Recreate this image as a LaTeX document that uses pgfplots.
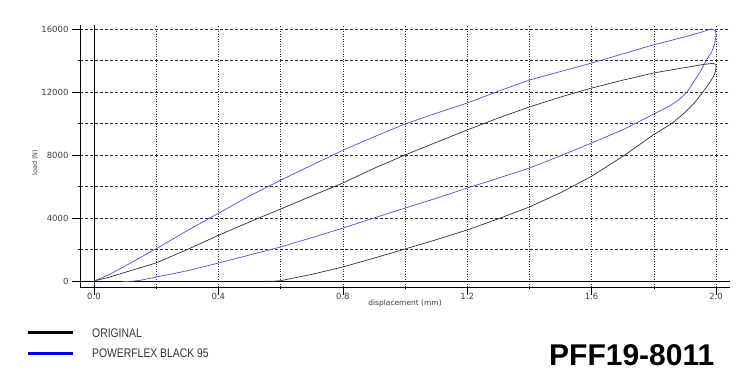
\documentclass[border=0pt]{standalone}
\usepackage{pgfplots}
\pgfplotsset{compat=1.18}
\usepackage{fontspec}
\setmainfont{DejaVu Sans}
\newfontfamily\legfont[FakeStretch=0.83]{Liberation Sans}
\newfontfamily\idfont{Liberation Sans}
\definecolor{bluec}{RGB}{80,80,225}
\definecolor{blackc}{RGB}{50,50,50}
\definecolor{gridc}{RGB}{40,40,40}
\begin{document}
\begin{tikzpicture}[x=1pt,y=1pt]
\path[use as bounding box] (0,0) rectangle (750,384);
\begin{axis}[
  at={(80pt,97pt)}, anchor=south west,
  scale only axis, width=650pt, height=262pt,
  xmin=-0.045, xmax=2.045, ymin=-381, ymax=16254,
  axis x line*=bottom, axis y line*=left,
  axis line style={-, black, line width=0.8pt},
  xtick={0,0.4,...,2.01}, minor xtick={0.2,0.6,1.0,1.4,1.8},
  ytick={0,4000,8000,12000,16000}, minor ytick={2000,6000,10000,14000},
  grid=both,
  major x grid style={gridc, line width=0.6pt, dash pattern=on 1pt off 1.5pt},
  minor x grid style={gridc, line width=0.6pt, dash pattern=on 1pt off 1.5pt},
  major y grid style={gridc, line width=0.6pt, dash pattern=on 3pt off 2pt},
  minor y grid style={gridc, line width=0.6pt, dash pattern=on 3pt off 2pt},
  tick align=outside, major tick length=8pt, minor tick length=2pt,
  tick style={black, line width=0.6pt},
  scaled y ticks=false,
  /pgf/number format/assume math mode=true,
  xticklabel style={/pgf/number format/fixed, /pgf/number format/fixed zerofill, /pgf/number format/precision=1, yshift=5pt},
  yticklabel style={/pgf/number format/fixed, /pgf/number format/1000 sep={}},
  ticklabel style={font=\fontsize{8.5}{10}\selectfont, text=black!75},
  xlabel={displacement (mm)},
  xlabel style={font=\fontsize{7.5}{9}\selectfont, text=black!75, at={(axis description cs:0.5,-0.062)}, anchor=center},
  ylabel={load (N)},
  ylabel style={font=\fontsize{6.5}{8}\selectfont, text=black!75, at={(axis description cs:-0.069,0.475)}, anchor=center},
  clip=false,
]
\draw[black, line width=0.7pt] (axis cs:0,-381) -- (axis cs:0,16254);
\draw[black, line width=0.7pt] (axis cs:-0.045,0) -- (axis cs:2.045,0);
% ORIGINAL
\addplot[blackc, line width=0.7pt] coordinates {
(0,0) (0.05,250) (0.1,550) (0.15,850) (0.2,1150) (0.3,2000) (0.4,2900) (0.5,3750)
(0.6,4570) (0.7,5400) (0.8,6220) (0.9,7150) (1.0,8000) (1.1,8800) (1.2,9590)
(1.3,10350) (1.4,11050) (1.5,11680) (1.6,12250) (1.7,12750) (1.8,13210)
(1.9,13550) (1.96,13750) (1.99,13820) (2.0,13750) (2.0,13500) (1.995,13100)
(1.98,12600) (1.958,12000) (1.93,11300) (1.9,10700) (1.858,10000) (1.8,9300)
(1.707,8000) (1.6,6650) (1.5,5600) (1.4,4700) (1.3,3950) (1.2,3240) (1.1,2620)
(1.0,2030) (0.9,1450) (0.8,890) (0.7,420) (0.62,100) (0.6,20) (0.58,-10) (0.55,-20)
};
% POWERFLEX BLACK 95
\addplot[bluec, line width=0.7pt] coordinates {
(0,0) (0.05,420) (0.1,950) (0.15,1500) (0.2,2050) (0.3,3200) (0.4,4300) (0.5,5400)
(0.6,6400) (0.7,7350) (0.8,8300) (0.9,9150) (1.0,9970) (1.1,10650) (1.2,11300)
(1.3,12050) (1.4,12760) (1.5,13300) (1.6,13840) (1.7,14420) (1.8,15000)
(1.9,15500) (1.95,15780) (1.985,16000) (1.998,15900) (2.0,15600) (1.995,15000)
(1.985,14500) (1.968,14000) (1.95,13300) (1.93,12700) (1.907,12000) (1.88,11500)
(1.85,11100) (1.8,10600) (1.7,9600) (1.6,8760) (1.5,7950) (1.4,7170) (1.3,6530)
(1.2,5900) (1.1,5250) (1.0,4630) (0.9,4000) (0.8,3360) (0.7,2750) (0.6,2160)
(0.5,1650) (0.4,1140) (0.3,650) (0.2,250) (0.15,50) (0.12,-20) (0.09,-40)
};
\end{axis}
% legend
\draw[black, line width=3pt] (28,52) -- (73,52);
\draw[blue!90!black, line width=3pt] (28,31) -- (73,31);
\node[anchor=base west, inner sep=0pt, text=black!80, font=\legfont\fontsize{12.5}{14}\selectfont] at (92,47) {ORIGINAL};
\node[anchor=base west, inner sep=0pt, text=black!80, font=\legfont\fontsize{12.5}{14}\selectfont] at (92,27) {POWERFLEX BLACK 95};
\node[anchor=base west, inner sep=0pt, text=black, font=\idfont\bfseries\fontsize{30}{33}\selectfont] at (549,19) {PFF19-8011};
\end{tikzpicture}
\end{document}
